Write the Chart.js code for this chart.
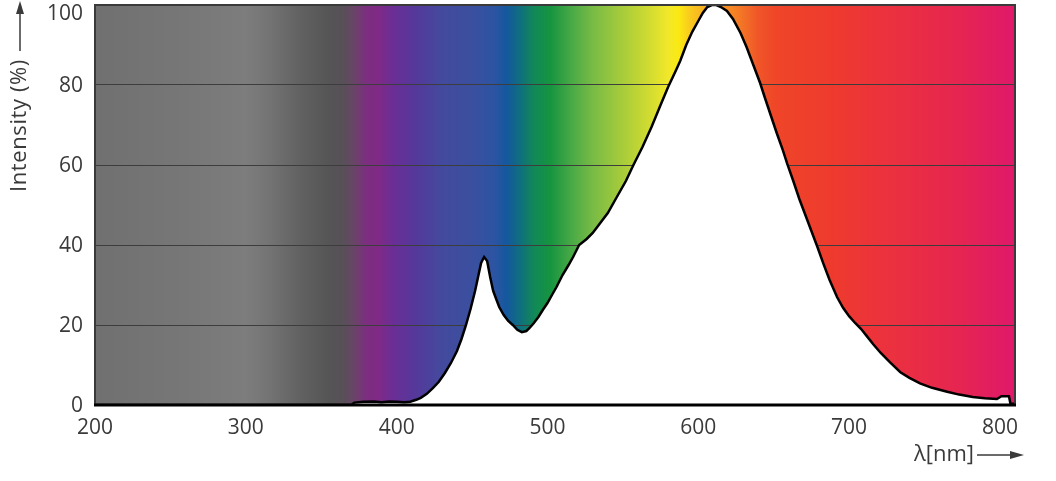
<!DOCTYPE html>
<html>
<head>
    <title>LED spectrum</title>
    <script src="https://cdn.jsdelivr.net/npm/chart.js"></script>
    <style>
        body { margin: 0; background: #fff; }
        #wrap { width: 1056px; height: 481px; }
    </style>
</head>
<body>
<div id="wrap"><canvas id="spectrum"></canvas></div>

<script>
// wavelength (nm) and relative intensity (%)
const wavelengths = [200, 370, 372, 378, 385, 390, 395, 400, 405, 409, 413, 416, 420, 424, 428, 432, 436, 440, 443, 446,
    449, 452, 454, 456, 458, 460, 462, 464, 466, 468, 471, 474, 477, 480, 483, 486, 488, 491, 494, 497,
    500, 503, 506, 510, 514, 517, 521, 526, 530, 535, 540, 546, 552, 557, 563, 569, 575, 580, 585, 588,
    592, 596, 600, 603, 606, 609, 612, 615, 619, 623, 628, 632, 636, 641, 644, 648, 652, 656, 659, 663,
    667, 671, 675, 679, 683, 687, 692, 696, 700, 704, 708, 712, 716, 721, 727, 734, 740, 747, 755, 765,
    773, 782, 790, 798, 801, 806, 807, 810];
const intensity = [0, 0, 0.6, 0.8, 0.9, 0.7, 0.9, 0.8, 0.7, 0.8, 1.3, 1.8, 2.8, 4.2, 5.8, 8, 10.5, 13.5, 16.5, 20,
    24, 28.5, 32, 35.5, 37, 36, 32, 28.5, 26.5, 24.5, 22.5, 21, 20, 18.8, 18.2, 18.5, 19.2, 20.5, 22, 23.8,
    25.5, 27.5, 29.5, 32.5, 35, 37, 40, 41.5, 43, 45.5, 48, 52, 56, 60, 64.5, 69.5, 75, 79.5, 83.5, 86,
    90, 93.3, 96, 98, 99.5, 100, 100, 99.5, 98.5, 96.5, 93, 89.5, 85.5, 80.5, 77, 72.5, 68, 63.8, 60.3, 56,
    51.5, 47.5, 43.5, 39.5, 35.3, 31.3, 27, 24.3, 22.2, 20.5, 19, 17.1, 15.2, 13, 10.7, 8.2, 6.8, 5.4, 4.3, 3.3,
    2.6, 2.0, 1.7, 1.5, 2.2, 2.2, 0.3, 0.3];
const xTicks = [200, 300, 400, 500, 600, 700, 800];
const yTicks = [0, 20, 40, 60, 80, 100];

// background spectrum band (wavelength -> colour)
const bandNm = [200, 260, 288, 300, 315, 335, 355, 365, 372, 380, 388, 398, 412, 430, 450, 465, 473, 482, 492, 502, 515,
    530, 550, 568, 580, 587, 595, 608, 625, 640, 652, 690, 730, 770, 810];
const bandColors = ['#707070', '#777777', '#7b7b7b', '#7d7d7d', '#747474', '#626262', '#555555', '#585058', '#6a4468',
    '#7c2e80', '#7f2a86', '#6a2e96', '#55389a', '#434a9e', '#3b4f9f', '#2c54a2', '#14589e', '#0f6f7e', '#128a55',
    '#169440', '#45a845', '#78bb45', '#a8cc3a', '#d2dc30', '#f2e82a', '#fae912', '#f9c81e', '#f8a522', '#f47f25',
    '#f05528', '#ef4528', '#ee3a2e', '#eb3040', '#e6264f', '#e0186a'];

const textColor = '#3a3a3a';
const fontFamily = '"Open Sans", "Noto Sans", sans-serif';

const points = wavelengths.map((w, i) => ({ x: w, y: intensity[i] }));

const spectrumBand = {
    id: 'spectrumBand',
    beforeDraw(chart) {
        const { ctx, chartArea: a, scales } = chart;
        const x = scales.x;
        const g = ctx.createLinearGradient(a.left, 0, a.right, 0);
        bandNm.forEach((nm, i) => {
            const t = (x.getPixelForValue(nm) - a.left) / (a.right - a.left);
            g.addColorStop(Math.min(1, Math.max(0, t)), bandColors[i]);
        });
        ctx.save();
        ctx.fillStyle = g;
        ctx.fillRect(a.left, a.top, a.right - a.left, a.bottom - a.top);
        ctx.restore();

        // keep the top y label inside the canvas, as in the original
        scales.y.getLabelItems().forEach(item => {
            const tr = item.options.translation;
            tr[1] = Math.max(tr[1], a.top + 9.5);
        });
    },
    afterDraw(chart) {
        const { ctx, chartArea: a } = chart;
        ctx.save();
        // frame
        ctx.strokeStyle = '#3a3a3a';
        ctx.lineWidth = 2;
        ctx.strokeRect(a.left, a.top, a.right - a.left, a.bottom - a.top);
        ctx.strokeStyle = '#000';
        ctx.lineWidth = 3;
        ctx.beginPath();
        ctx.moveTo(a.left - 1, a.bottom);
        ctx.lineTo(a.right + 1, a.bottom);
        ctx.stroke();

        ctx.fillStyle = textColor;
        ctx.strokeStyle = textColor;
        ctx.textBaseline = 'middle';

        // y title with upward arrow
        ctx.save();
        ctx.font = '22px ' + fontFamily;
        ctx.letterSpacing = '0.6px';
        ctx.translate(20, 192);
        ctx.rotate(-Math.PI / 2);
        ctx.textAlign = 'left';
        ctx.fillText('Intensity (%)', 0, 0);
        const w = ctx.measureText('Intensity (%)').width;
        ctx.lineWidth = 1.5;
        ctx.beginPath();
        ctx.moveTo(w + 8, 0);
        ctx.lineTo(182, 0);
        ctx.stroke();
        ctx.beginPath();
        ctx.moveTo(191, 0);
        ctx.lineTo(178, -4);
        ctx.lineTo(178, 4);
        ctx.closePath();
        ctx.fill();
        ctx.restore();

        // x title with arrow to the right
        ctx.font = '22px ' + fontFamily;
        ctx.textAlign = 'left';
        ctx.fillText('λ[nm]', 914, 455);
        const wx = ctx.measureText('λ[nm]').width;
        ctx.lineWidth = 1.5;
        ctx.beginPath();
        ctx.moveTo(914 + wx + 3, 455);
        ctx.lineTo(1013, 455);
        ctx.stroke();
        ctx.beginPath();
        ctx.moveTo(1024, 455);
        ctx.lineTo(1010, 451);
        ctx.lineTo(1010, 459);
        ctx.closePath();
        ctx.fill();
        ctx.restore();
    }
};

new Chart(document.getElementById('spectrum'), {
    type: 'line',
    data: {
        datasets: [{
            data: points,
            borderColor: '#000',
            borderWidth: 2.5,
            backgroundColor: '#ffffff',
            fill: 'origin',
            pointRadius: 0,
            tension: 0
        }]
    },
    options: {
        responsive: true,
        maintainAspectRatio: false,
        animation: false,
        layout: { padding: { left: 0, top: 5, right: 41, bottom: 0 } },
        plugins: { legend: { display: false }, tooltip: { enabled: false } },
        scales: {
            x: {
                type: 'linear',
                min: 200,
                max: 810,
                afterFit: s => { s.height = 76; s.paddingLeft = 0; s.paddingRight = 0; },
                afterBuildTicks: s => { s.ticks = xTicks.map(v => ({ value: v })); },
                grid: { display: false, drawTicks: false },
                border: { display: false },
                ticks: { color: textColor, font: { family: fontFamily, size: 21 }, padding: 10, maxRotation: 0 }
            },
            y: {
                min: 0,
                max: 100,
                afterFit: s => { s.width = 95; s.paddingTop = 0; s.paddingBottom = 0; },
                afterBuildTicks: s => { s.ticks = yTicks.map(v => ({ value: v })); },
                grid: { color: '#3d3d3d', lineWidth: 1, drawTicks: false },
                border: { display: false },
                ticks: { color: textColor, font: { family: fontFamily, size: 21 }, padding: 12, labelOffset: 1 }
            }
        }
    },
    plugins: [spectrumBand]
});
</script>
</body>
</html>
